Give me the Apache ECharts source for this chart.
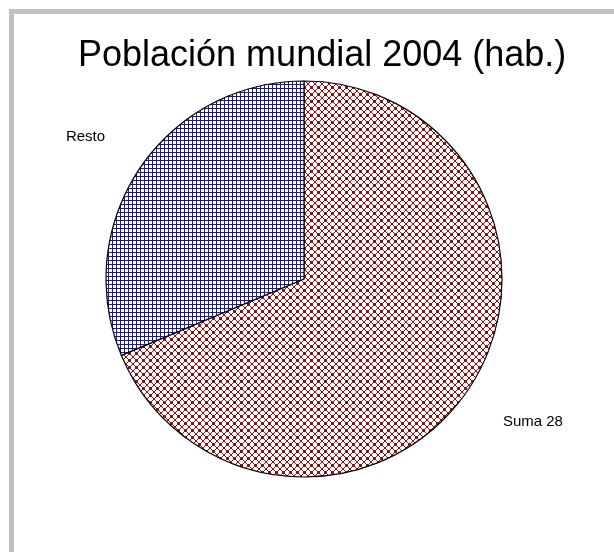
<!DOCTYPE html>
<html>
<head>
<meta charset="utf-8">
<script src="https://cdn.jsdelivr.net/npm/echarts@6/dist/echarts.min.js"></script>
<style>
  html, body { margin: 0; padding: 0; background: #fff; }
  .frame {
    position: absolute; left: 9px; top: 9px; width: 620px; height: 560px;
    border-left: 5px solid #c0c0c0; border-top: 5px solid #c0c0c0;
  }
  #chart { position: absolute; left: 0; top: 0; width: 614px; height: 552px; }
</style>
</head>
<body>
<div class="frame"></div>
<div id="chart"></div>
<script>
// población mundial 2004, habitantes
const categories = ['Suma 28', 'Resto']
const values = [4390000000, 2000000000]

// hatch tiles, drawn pixel by pixel so they stay crisp
function gridTile () {
  const c = document.createElement('canvas')
  c.width = 4
  c.height = 4
  const ctx = c.getContext('2d')
  ctx.fillStyle = '#ffffff'
  ctx.fillRect(0, 0, 4, 4)
  ctx.fillStyle = '#1c1c8e'
  ctx.fillRect(0, 0, 4, 1)
  ctx.fillRect(0, 0, 1, 4)
  return c
}
function crossTile () {
  const s = 7
  const c = document.createElement('canvas')
  c.width = s
  c.height = s
  const ctx = c.getContext('2d')
  ctx.fillStyle = '#ffffff'
  ctx.fillRect(0, 0, s, s)
  ctx.fillStyle = '#901010'
  for (let i = 0; i < s; i++) {
    ctx.fillRect(i, i, 1, 1)
    ctx.fillRect(s - 1 - i, i, 1, 1)
  }
  // heavier knot where the two diagonals cross
  ctx.fillRect(2, 3, 3, 1)
  ctx.fillRect(3, 2, 1, 3)
  return c
}

const fills = [
  { image: crossTile(), repeat: 'repeat' },
  { image: gridTile(), repeat: 'repeat' },
]

const chart = echarts.init(document.getElementById('chart'), null, { renderer: 'canvas' })
chart.setOption({
  animation: false,
  title: {
    text: 'Población mundial 2004 (hab.)',
    left: 73,
    top: 33,
    textStyle: {
      fontFamily: 'Liberation Sans, Arial, sans-serif',
      fontSize: 36,
      fontWeight: 'normal',
      color: '#000',
    },
  },
  series: [{
    type: 'pie',
    center: [304, 279],
    radius: 198,
    startAngle: 90,
    clockwise: true,
    avoidLabelOverlap: false,
    emphasis: { disabled: true },
    itemStyle: { borderColor: '#000', borderWidth: 1.2 },
    label: {
      position: 'outside',
      fontFamily: 'Liberation Sans, Arial, sans-serif',
      fontSize: 15,
      color: '#000',
      distanceToLabelLine: 5,
    },
    labelLine: { show: false, length: 59, length2: -20 },
    data: categories.map((name, i) => ({
      name: name,
      value: values[i],
      itemStyle: { color: fills[i] },
    })),
  }],
})
</script>
</body>
</html>
